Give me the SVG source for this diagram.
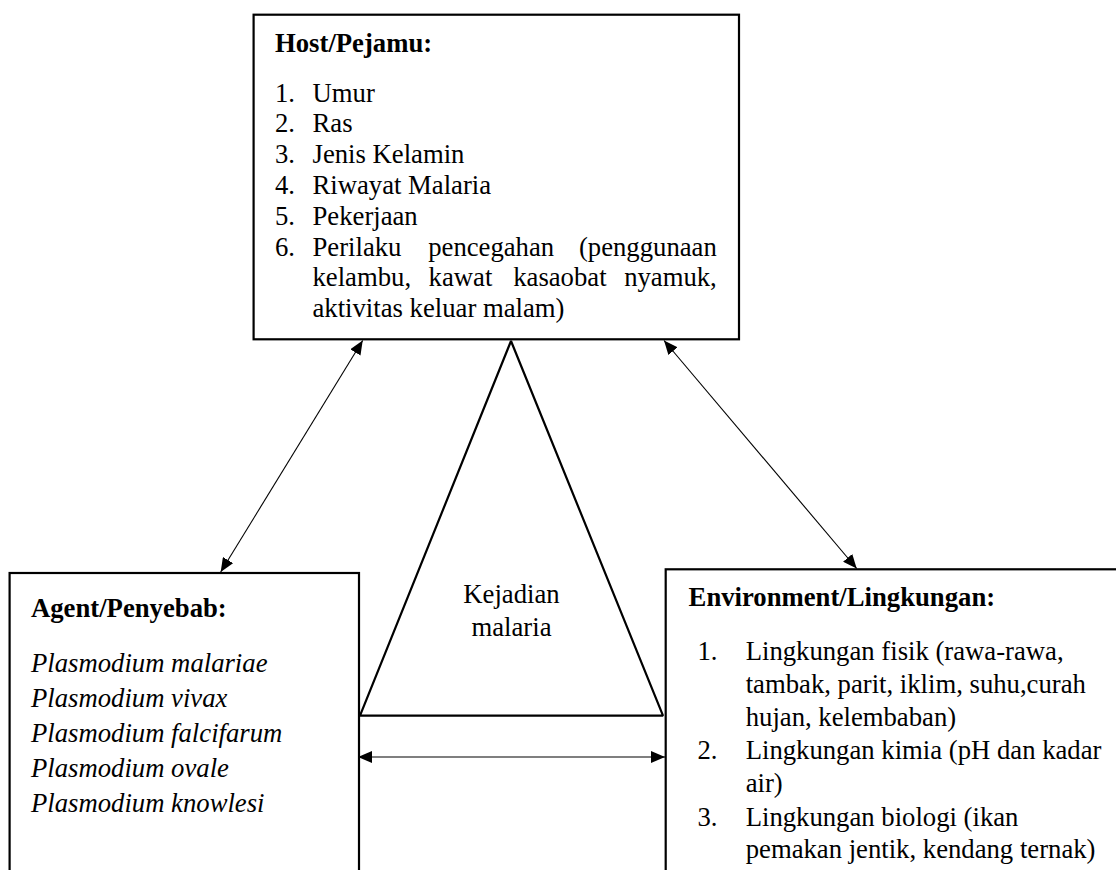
<svg xmlns="http://www.w3.org/2000/svg" width="1116" height="870" viewBox="0 0 1116 870">
<style>
text{font-family:"Liberation Serif","Times New Roman",serif;font-size:26.7px;fill:#000}
.b{font-weight:bold}
.i{font-style:italic}
.box{fill:#fff;stroke:#000;stroke-width:2.2}
.tri{fill:none;stroke:#000;stroke-width:2.2;stroke-linejoin:bevel}
.con{stroke:#000;stroke-width:1.1;fill:none;marker-start:url(#ah);marker-end:url(#ah)}
</style>
<defs>
<marker id="ah" viewBox="0 0 14 12" refX="14" refY="6" markerWidth="14" markerHeight="12" markerUnits="userSpaceOnUse" orient="auto-start-reverse">
<path d="M0,0 L14,6 L0,12 Z" fill="#000"/>
</marker>
</defs>
<rect width="1116" height="870" fill="#fff"/>
<g id="host">
<rect class="box" x="253.6" y="14.7" width="485.4" height="324.6"/>
<text class="b" x="275" y="51.7">Host/Pejamu:</text>
<text x="275" y="101.7">1.</text><text x="312.5" y="101.7">Umur</text>
<text x="275" y="132.3">2.</text><text x="312.5" y="132.3">Ras</text>
<text x="275" y="163.3">3.</text><text x="312.5" y="163.3">Jenis Kelamin</text>
<text x="275" y="194">4.</text><text x="312.5" y="194">Riwayat Malaria</text>
<text x="275" y="225">5.</text><text x="312.5" y="225">Pekerjaan</text>
<text x="275" y="255.7">6.</text><text x="312.5" y="255.7">Perilaku</text><text x="428.2" y="255.7">pencegahan</text><text x="716.8" y="255.7" text-anchor="end">(penggunaan</text>
<text x="312.5" y="286">kelambu,</text><text x="428.6" y="286">kawat</text><text x="513.2" y="286">kasaobat</text><text x="716.8" y="286" text-anchor="end">nyamuk,</text>
<text x="312.5" y="316.7">aktivitas keluar malam)</text>
</g>
<g id="agent">
<rect class="box" x="9.6" y="573" width="349.4" height="310"/>
<text class="b" x="31" y="617.3">Agent/Penyebab:</text>
<text class="i" x="31" y="671.7">Plasmodium malariae</text>
<text class="i" x="31" y="706.7">Plasmodium vivax</text>
<text class="i" x="31" y="741.7">Plasmodium falcifarum</text>
<text class="i" x="31" y="777.3">Plasmodium ovale</text>
<text class="i" x="31" y="811.7">Plasmodium knowlesi</text>
</g>
<g id="environment">
<rect class="box" x="665.7" y="569.3" width="460" height="320"/>
<text class="b" x="688.6" y="605.7">Environment/Lingkungan:</text>
<text x="697.5" y="660">1.</text><text x="745.7" y="660">Lingkungan fisik (rawa-rawa,</text>
<text x="745.7" y="693.3">tambak, parit, iklim, suhu,curah</text>
<text x="745.7" y="725.7">hujan, kelembaban)</text>
<text x="697.5" y="759">2.</text><text x="745.7" y="759">Lingkungan kimia (pH dan kadar</text>
<text x="745.7" y="792.3">air)</text>
<text x="697.5" y="825.7">3.</text><text x="745.7" y="825.7">Lingkungan biologi (ikan</text>
<text x="745.7" y="858.3">pemakan jentik, kendang ternak)</text>
</g>
<g id="kejadian">
<polygon class="tri" points="511,341 360,715.7 663,715.7"/>
<text x="511.5" y="603" text-anchor="middle">Kejadian</text>
<text x="511.5" y="636" text-anchor="middle">malaria</text>
</g>
<g id="connectors">
<line class="con" x1="362.7" y1="340.5" x2="220.7" y2="572"/>
<line class="con" x1="664" y1="340.5" x2="856.7" y2="568.5"/>
<line class="con" x1="358" y1="757" x2="665" y2="757"/>
</g>
</svg>
